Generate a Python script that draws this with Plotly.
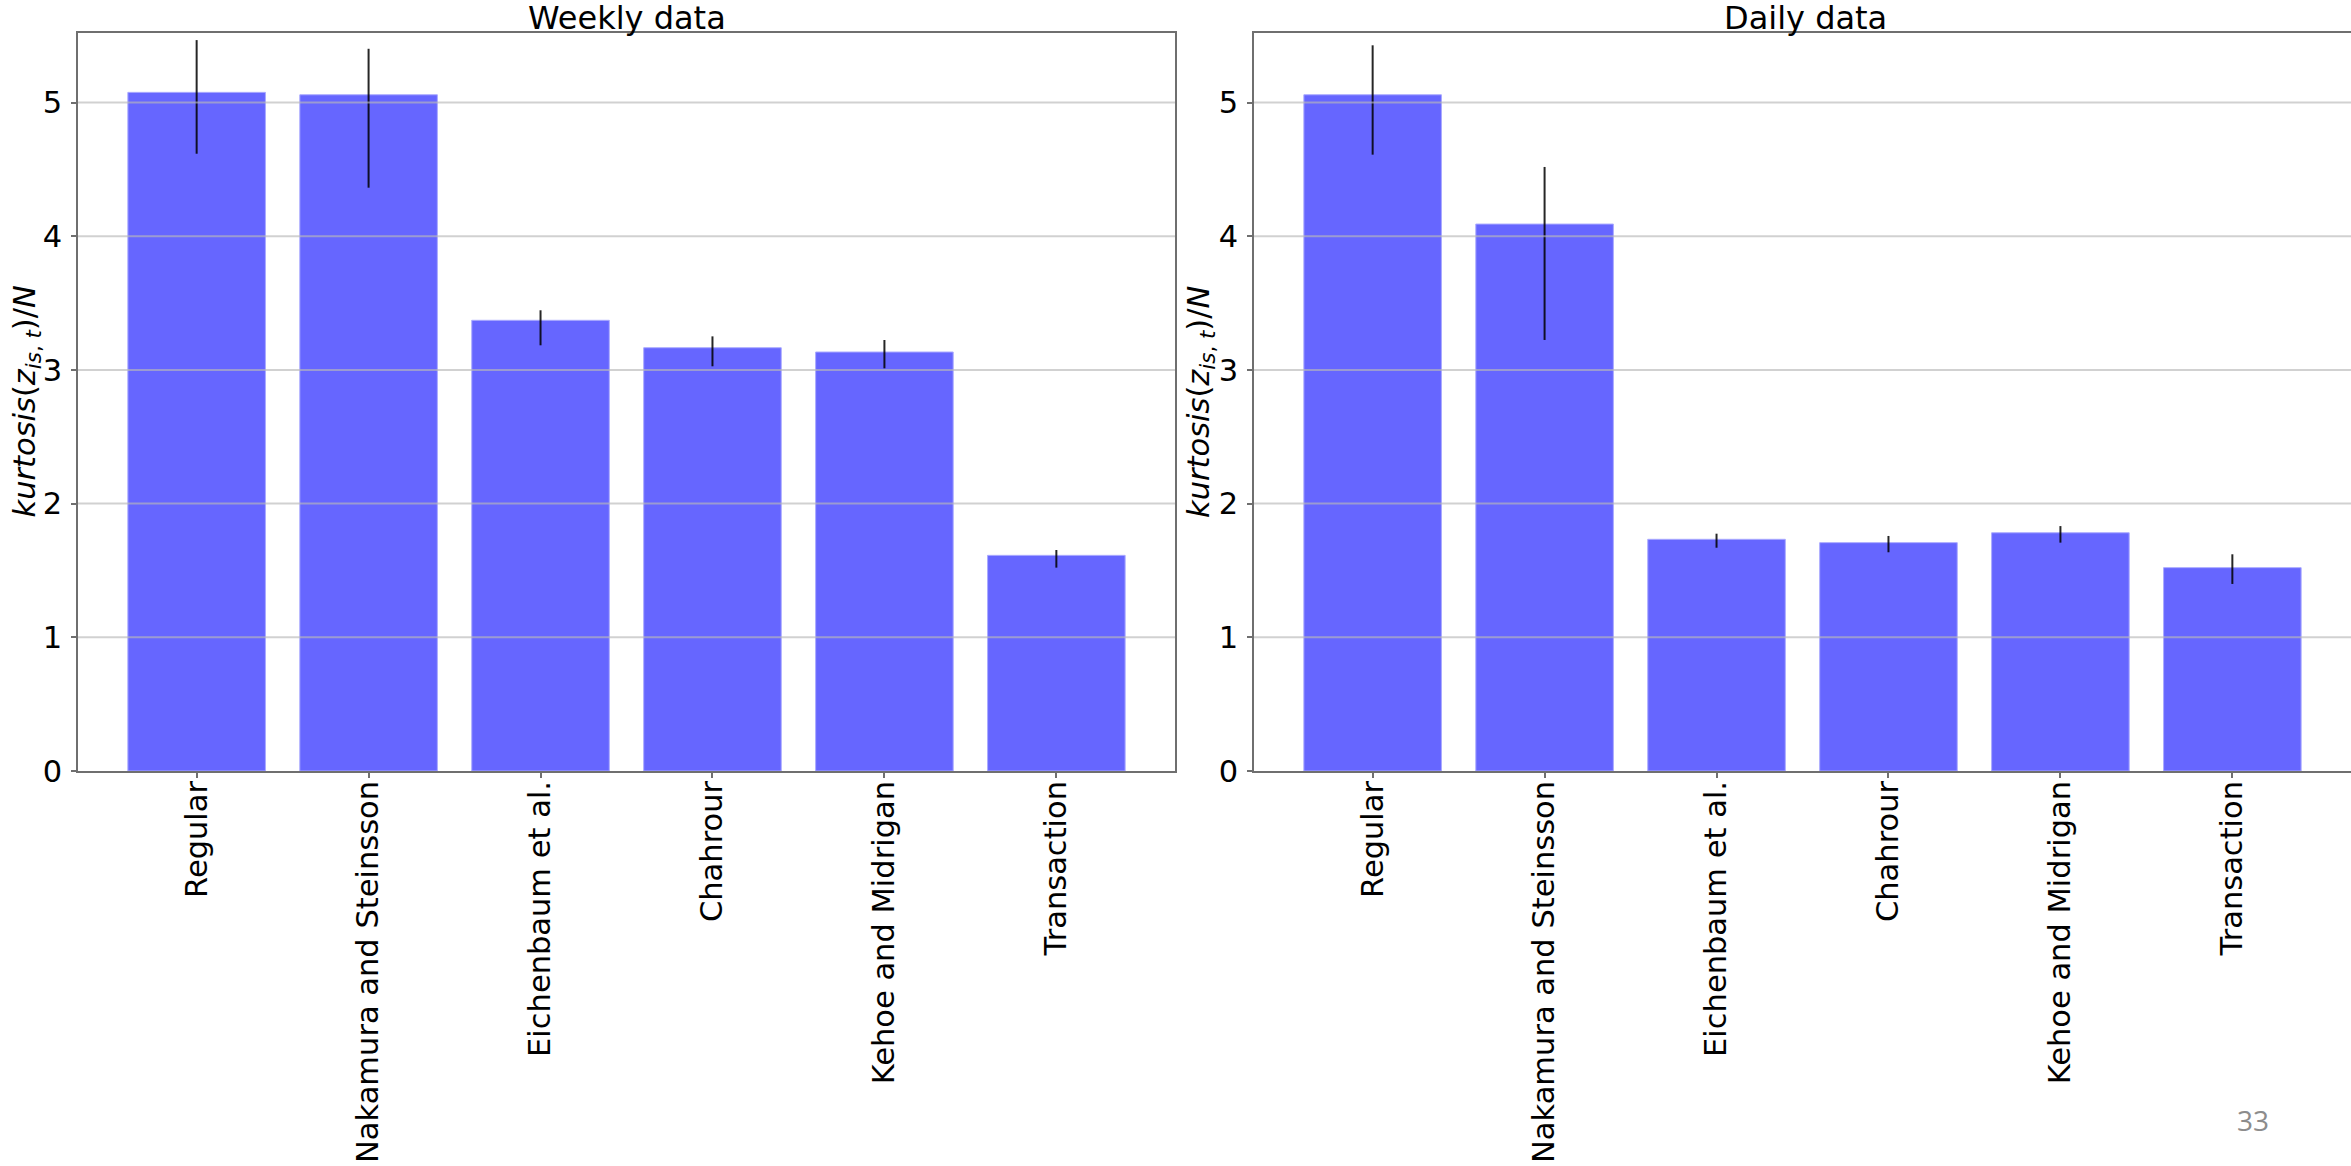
import plotly.graph_objects as go

# Price-change measures compared in both panels
categories = [
    "Regular",
    "Nakamura and Steinsson",
    "Eichenbaum et al.",
    "Chahrour",
    "Kehoe and Midrigan",
    "Transaction",
]

# Weekly data: kurtosis / N with confidence bounds
weekly_values = [5.076, 5.058, 3.371, 3.166, 3.134, 1.613]
weekly_high = [5.467, 5.402, 3.446, 3.251, 3.224, 1.653]
weekly_low = [4.617, 4.363, 3.184, 3.027, 3.012, 1.521]

# Daily data: kurtosis / N with confidence bounds
daily_values = [5.058, 4.091, 1.733, 1.708, 1.782, 1.521]
daily_high = [5.428, 4.518, 1.775, 1.758, 1.832, 1.621]
daily_low = [4.610, 3.224, 1.670, 1.636, 1.708, 1.399]

y_ticks = [0, 1, 2, 3, 4, 5]
panel_titles = ["Weekly data", "Daily data"]
y_title = "<i>kurtosis</i>(<i>z</i><sub><i>is</i>, <i>t</i></sub>)/<i>N</i>"
page_number = "33"

W, H = 2351, 1166
FONT = "DejaVu Sans"
FS = 30.5
BAR_COLOR = "rgba(0,0,255,0.6)"
FRAME = "#6f6f6f"
GRID = "rgba(185,185,185,0.65)"

fig = go.Figure()

panels = [
    ("x", "y", weekly_values, weekly_high, weekly_low),
    ("x2", "y2", daily_values, daily_high, daily_low),
]
for xa, ya, vals, hi, lo in panels:
    fig.add_trace(go.Bar(
        x=categories,
        y=vals,
        width=0.8,
        marker=dict(color=BAR_COLOR, line=dict(color="rgba(170,170,255,1)", width=1)),
        error_y=dict(
            type="data",
            symmetric=False,
            array=[h - v for h, v in zip(hi, vals)],
            arrayminus=[v - l for v, l in zip(vals, lo)],
            color="rgba(0,0,0,0.85)",
            thickness=2,
            width=0,
        ),
        xaxis=xa,
        yaxis=ya,
        showlegend=False,
    ))

# Horizontal grid drawn over the bars
for ya, xa in (("y", "x"), ("y2", "x2")):
    for t in y_ticks[1:]:
        fig.add_shape(
            type="line", xref=f"{xa} domain", yref=ya,
            x0=0, x1=1, y0=t, y1=t,
            line=dict(color=GRID, width=2), layer="above",
        )

x_domains = [[78 / W, 1175 / W], [1254 / W, 1.0]]
y_domain = [1 - 771 / H, 1 - 33 / H]

common_x = dict(
    type="category",
    range=[-0.69, 5.69],
    automargin=False,
    showline=True, mirror=True, linecolor=FRAME, linewidth=1.5,
    ticks="outside", ticklen=5, tickwidth=1.5, tickcolor=FRAME,
    tickangle=-90,
    ticklabelstandoff=-9,
    tickfont=dict(family=FONT, size=FS, color="black"),
    showgrid=False, zeroline=False,
)
common_y = dict(
    range=[0, 5.52],
    tickvals=y_ticks,
    automargin=False,
    showline=True, mirror=True, linecolor=FRAME, linewidth=1.5,
    ticks="outside", ticklen=5, tickwidth=1.5, tickcolor=FRAME,
    tickfont=dict(family=FONT, size=FS, color="black"),
    ticklabelstandoff=3,
    showgrid=False, zeroline=False,
)

fig.update_layout(
    width=W, height=H,
    margin=dict(l=0, r=0, t=0, b=0, autoexpand=False),
    paper_bgcolor="white", plot_bgcolor="white",
    bargap=0.2,
    xaxis=dict(domain=x_domains[0], anchor="y", **common_x),
    xaxis2=dict(domain=x_domains[1], anchor="y2", **common_x),
    yaxis=dict(domain=y_domain, anchor="x", **common_y),
    yaxis2=dict(domain=y_domain, anchor="x2", **common_y),
)

annotations = []
title_centers = [(78 + 1175) / 2 / W, (1254 + 2356) / 2 / W]
for title, cx in zip(panel_titles, title_centers):
    annotations.append(dict(
        text=title, x=cx, y=1 - 18 / H, xref="paper", yref="paper",
        xanchor="center", yanchor="middle", showarrow=False,
        font=dict(family=FONT, size=32, color="black"),
    ))
for lx in (25.5 / W, 1200 / W):
    annotations.append(dict(
        text=y_title, x=lx, y=(y_domain[0] + y_domain[1]) / 2,
        xref="paper", yref="paper", xanchor="center", yanchor="middle",
        textangle=-90, showarrow=False,
        font=dict(family=FONT, size=FS, color="black"),
    ))
annotations.append(dict(
    text=page_number, x=2253 / W, y=1 - 1120 / H, xref="paper", yref="paper",
    xanchor="center", yanchor="middle", showarrow=False,
    font=dict(family="Open Sans", size=28, color="#8c8c8c"),
))
fig.update_layout(annotations=annotations)

fig.write_html("out.html")
